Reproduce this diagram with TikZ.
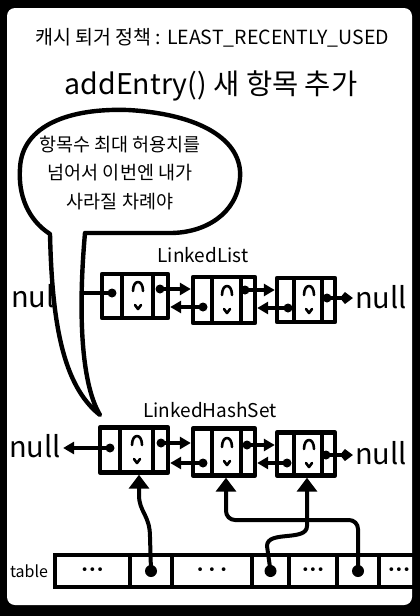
\documentclass[tikz,border=0pt]{standalone}
\usepackage{fontspec}
\setmainfont{Noto Sans CJK KR}
\newfontfamily\symfont{DejaVu Sans}
\usetikzlibrary{
    positioning,
    arrows.meta,
    calc
}

\begin{document}
\begin{tikzpicture}[
    x=1pt, y=-1pt,
    entry/.style={draw, line width=4.4pt, line join=round, fill=white, inner sep=0pt, minimum width=62pt, minimum height=45pt,
        path picture={
            \path (path picture bounding box.north west) coordinate (pnw)
                  (path picture bounding box.south east) coordinate (pse)
                  ([xshift=3pt]path picture bounding box.center) coordinate (pm);
            \draw[line width=4pt] ($(pnw)!0.3!(pnw-|pse)$) -- ($(pnw|-pse)!0.3!(pse)$)
                                  ($(pnw)!0.78!(pnw-|pse)$) -- ($(pnw|-pse)!0.78!(pse)$);
            \draw[line width=2.6pt, line cap=round, line join=round] ([shift={(-5,-5)}]pm) .. controls ([shift={(-5,-17)}]pm) and ([shift={(5,-17)}]pm) .. ([shift={(5,-5)}]pm)
                  ([shift={(-3,9)}]pm) -- ([shift={(0,13)}]pm) -- ([shift={(3,9)}]pm);
        }},
    dot/.style={circle, fill, inner sep=0pt, minimum size=9pt},
    hole/.style={circle, fill, inner sep=0pt, minimum size=12pt},
    link/.style={line width=3.2pt, -{Triangle[length=11pt, width=12pt]}},
    tonull/.style={line width=3.2pt, -{Kite[length=13pt, width=12pt, inset=5pt]}},
    feed/.style={line width=4pt, -{Triangle[length=14pt, width=20pt]}},
    cell/.style={draw, line width=4pt, minimum height=32pt, inner sep=0pt, font=\symfont\fontsize{13}{13}\selectfont},
    nullword/.style={inner sep=2pt, font=\fontsize{29}{29}\selectfont},
    listname/.style={font=\fontsize{19}{19}\selectfont},
    bubble/.style={draw, line width=4.4pt, fill=white, line join=round},
    say/.style={align=center, font=\fontsize{18.5}{28.5}\selectfont}
]
\useasboundingbox (0,0) rectangle (420,616);
\fill (0,0) rectangle (420,616);
\fill[white, rounded corners=8pt] (7,8) rectangle (412,605);

\node[font=\fontsize{19.5}{19.5}\selectfont] (policy) at (212,38) {캐시 퇴거 정책 : LEAST\_RECENTLY\_USED};
\node[font=\fontsize{28.5}{28.5}\selectfont] (heading) at (211,86) {addEntry() 새 항목 추가};

\node[listname] (llname) at (203,255) {LinkedList};
\node[entry, minimum width=66pt, minimum height=44pt] (l1) at (135,296) {};
\node[entry, minimum width=62pt, minimum height=46pt] (l2) at (224,300) {};
\node[entry, minimum width=58pt, minimum height=44pt] (l3) at (306,300) {};
\node[nullword] (nullLL) at (37,296) {null};
\node[nullword] (nullLR) at (381,297) {null};
\node[dot] (l1a) at ([shift={(-23,-3)}]l1.center) {};
\node[dot] (l1b) at ([shift={(25,-7)}]l1.center) {};
\node[dot] (l2a) at ([shift={(-21,7)}]l2.center) {};
\node[dot] (l2b) at ([shift={(21,-10)}]l2.center) {};
\node[dot] (l3a) at ([shift={(-18,8)}]l3.center) {};
\node[dot] (l3b) at ([shift={(21,-2)}]l3.center) {};
\draw[link] (l1a.center) -- (l1a -| nullLL.east);
\draw[link] (l1b.center) -- (l1b -| l2.west);
\draw[link] (l2a.center) -- (l2a -| l1.east);
\draw[link] (l2b.center) -- (l2b -| l3.west);
\draw[link] (l3a.center) -- (l3a -| l2.east);
\draw[tonull] (l3b.center) -- (l3b -| nullLR.west);

\draw[bubble] (100,415) .. controls (62,385) and (52,320) .. (50,234)
    .. controls (28,220) and (18,195) .. (20,168)
    .. controls (22,125) and (70,108) .. (128,110)
    .. controls (200,114) and (243,140) .. (240,178)
    .. controls (237,214) and (205,233) .. (170,233)
    -- (85,233)
    .. controls (79,300) and (79,380) .. (100,415) -- cycle;
\node[say] (msg) at (120,173) {항목수 최대 허용치를\\넘어서 이번엔 내가\\사라질 차례야};

\node[listname] (hsname) at (210,410) {LinkedHashSet};
\node[entry, minimum width=68pt, minimum height=45pt] (h1) at (134,450) {};
\node[entry, minimum width=62pt, minimum height=47pt] (h2) at (224,452) {};
\node[entry, minimum width=58pt, minimum height=43pt] (h3) at (306,454) {};
\node[nullword] (nullHL) at (35,446) {null};
\node[nullword] (nullHR) at (381,453) {null};
\node[dot] (h1a) at ([shift={(-24,-2)}]h1.center) {};
\node[dot] (h1b) at ([shift={(27,-7)}]h1.center) {};
\node[dot] (h2a) at ([shift={(-21,11)}]h2.center) {};
\node[dot] (h2b) at ([shift={(23,-7)}]h2.center) {};
\node[dot] (h3a) at ([shift={(-19,9)}]h3.center) {};
\node[dot] (h3b) at ([shift={(20,1)}]h3.center) {};
\draw[link] (h1a.center) -- (h1a -| nullHL.east);
\draw[link] (h1b.center) -- (h1b -| h2.west);
\draw[link] (h2a.center) -- (h2a -| h1.east);
\draw[link] (h2b.center) -- (h2b -| h3.west);
\draw[link] (h3a.center) -- (h3a -| h2.east);
\draw[tonull] (h3b.center) -- (h3b -| nullHR.west);

\node[font=\fontsize{16}{16}\selectfont] (tablename) at (29,571) {table};
\node[cell, minimum width=75pt, anchor=west] (t1) at (53,571) {•••};
\node[cell, minimum width=42pt, right=-4pt of t1] (t2) {};
\node[cell, minimum width=80pt, right=-4pt of t2] (t3) {• • •};
\node[cell, minimum width=37pt, right=-4pt of t3] (t4) {};
\node[cell, minimum width=48pt, right=-4pt of t4] (t5) {•••};
\node[cell, minimum width=42pt, right=-4pt of t5] (t6) {};
\node[cell, minimum width=40pt, right=-4pt of t6] (t7) {•••};
\node[hole] (t2h) at (t2.center) {};
\node[hole] (t4h) at (t4.center) {};
\node[hole] (t6h) at (t6.center) {};
\draw[feed] (t2h.center) -- (150,537) .. controls (150,515) and (139,512) .. (139,495) -- ([xshift=5pt]h1.south);
\draw[feed, rounded corners=9pt] (t6h.center) |- (226,520) -- ([xshift=2pt]h2.south);
\draw[feed] (t4h.center) -- (267,546) .. controls (267,530) and (307,542) .. (307,526) -- ([xshift=1pt]h3.south);
\end{tikzpicture}
\end{document}
